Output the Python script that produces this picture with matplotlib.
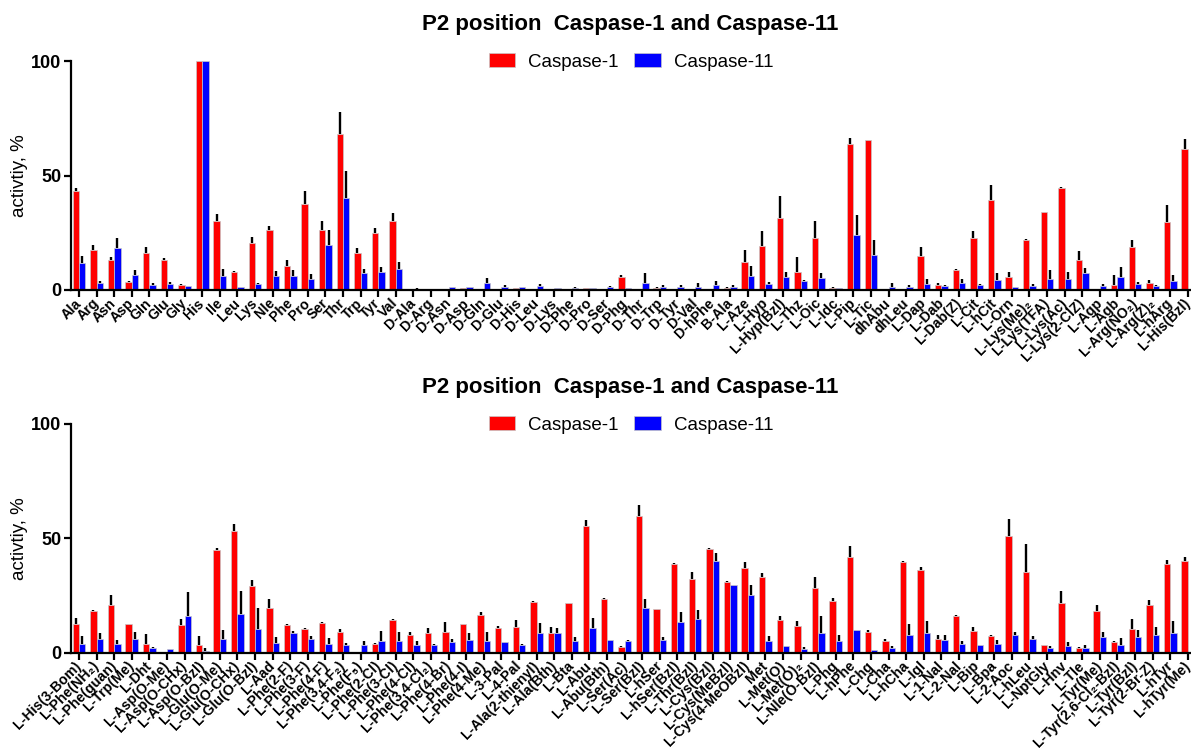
import numpy as np
import matplotlib
matplotlib.use('Agg')
import matplotlib.pyplot as plt

plt.rcParams['font.family'] = ['Liberation Sans', 'DejaVu Sans']

# ---- data: upper panel ----
labels_top = ['Ala', 'Arg', 'Asn', 'Asp', 'Gln', 'Glu', 'Gly', 'His', 'Ile', 'Leu',
              'Lys', 'Nle', 'Phe', 'Pro', 'Ser', 'Thr', 'Trp', 'Tyr', 'Val',
              'D-Ala', 'D-Arg', 'D-Asn', 'D-Asp', 'D-Gln', 'D-Glu', 'D-His', 'D-Leu',
              'D-Lys', 'D-Phe', 'D-Pro', 'D-Ser', 'D-Phg', 'D-Thr', 'D-Trp', 'D-Tyr',
              'D-Val', 'D-hPhe', 'B-Ala', 'L-Aze', 'L-Hyp', 'L-Hyp(Bzl)', 'L-Thz',
              'L-Oic', 'L-Idc', 'L-Pip', 'L-Tic', 'dhAbu', 'dhLeu', 'L-Dap', 'L-Dab',
              'L-Dab(Z)', 'L-Cit', 'L-hCit', 'L-Orn', 'L-Lys(Me)\u2082', 'L-Lys(TFA)',
              'L-Lys(Ac)', 'L-Lys(2-ClZ)', 'L-Agp', 'L-Agb', 'L-Arg(NO\u2082)',
              'L-Arg(Z)\u2082', 'L-hArg', 'L-His(Bzl)']
c1_top = [43.1, 17.3, 13.0, 3.6, 16.3, 13.0, 2.2, 100, 30.0, 8.0,
          20.7, 26.0, 10.3, 37.4, 26.3, 68.0, 16.3, 25.0, 30.0,
          0.2, 0.2, 0.5, 0.7, 0.1, 0.4, 0.7, 0.1, 0.1, 0.2, 0.7, 0.2, 5.5, 0.1,
          0.9, 0.2, 0.2, 0.2, 0.9, 12.4, 19.2, 31.6, 7.9, 22.9, 1.0, 63.6, 65.4,
          0.6, 0.6, 14.8, 2.0, 8.6, 22.9, 39.2, 5.8, 22.0, 33.9, 44.4, 13.2,
          0.1, 2.2, 18.6, 3.2, 29.5, 61.7]
c1_top_err = [1.4, 2.3, 1.4, 0.3, 2.3, 1.0, 0.4, 0, 3.2, 0.3,
              2.4, 1.8, 2.7, 5.8, 3.7, 9.6, 1.9, 2.2, 3.8,
              0, 0, 0, 0.3, 0, 0, 0.1, 0, 0, 0, 0, 0, 0.9, 0,
              0.2, 0, 0, 0, 0.2, 5.2, 6.7, 9.6, 6.4, 7.4, 0.5, 2.9, 0,
              0, 0, 4.0, 1.1, 0.4, 2.9, 6.8, 1.9, 0.4, 0.3, 0.4, 3.8,
              0, 4.2, 3.4, 1.3, 7.5, 4.2]
c11_top = [11.8, 2.9, 18.2, 6.6, 2.3, 2.6, 1.6, 100, 6.0, 1.3,
           2.6, 6.0, 6.0, 4.9, 19.6, 40.0, 7.4, 7.7, 9.3,
           0.6, 0.5, 1.2, 1.2, 2.9, 1.2, 1.2, 1.6, 0.7, 0.9, 0.9, 1.2, 0.7, 3.2,
           1.2, 1.2, 1.5, 2.2, 1.2, 6.3, 2.6, 5.8, 3.9, 5.2, 0.7, 23.9, 15.1,
           1.5, 1.5, 2.5, 1.7, 3.2, 2.3, 4.2, 1.2, 1.6, 4.9, 4.9, 7.6,
           1.6, 5.8, 2.6, 1.9, 3.9, 0.0]
c11_top_err = [3.2, 1.0, 4.7, 2.3, 0.6, 0.7, 0.3, 0, 3.3, 0,
               0.4, 2.4, 2.6, 1.9, 6.4, 12.1, 1.9, 2.2, 2.9,
               0.3, 0, 0.3, 0.1, 2.5, 1.0, 0.3, 1.0, 0.2, 0.3, 0, 0.4, 0, 4.4,
               1.1, 1.1, 1.7, 1.9, 1.0, 4.2, 0.7, 2.1, 0.3, 2.4, 0, 9.0, 6.9,
               1.4, 0.7, 2.2, 0.6, 1.7, 0.5, 3.1, 0, 1.2, 3.7, 3.1, 2.2,
               0.9, 4.1, 1.0, 0.3, 2.7, 0.0]

# ---- data: lower panel ----
labels_bot = ['L-His(3-Bom)', 'L-Phe(NH\u2082)', 'L-Phe(guan)', 'L-Trp(Me)', 'L-Dht',
              'L-Asp(O-Me)', 'L-Asp(O-CHx)', 'L-Asp(O-Bzl)', 'L-Glu(O-Me)',
              'L-Glu(O-CHx)', 'L-Glu(O-Bzl)', 'L-Aad', 'L-Phe(2-F)', 'L-Phe(3-F)',
              'L-Phe(4-F)', 'L-Phe(3,4-F\u2082)', 'L-Phe(F\u2085)', 'L-Phe(2-Cl)',
              'L-Phe(3-Cl)', 'L-Phe(4-Cl)', 'L-Phe(3,4-Cl\u2082)', 'L-Phe(4-Br)',
              'L-Phe(4-I)', 'L-Phe(4-Me)', 'L-3-Pal', 'L-4-Pal', 'L-Ala(2-thienyl)',
              'L-Ala(Bth)', 'L-Bta', 'L-Abu', 'L-Abu(Bth)', 'L-Ser(Ac)', 'L-Ser(Bzl)',
              'L-hSer', 'L-hSer(Bzl)', 'L-Thr(Bzl)', 'L-Cys(Bzl)', 'L-Cys(MeBzl)',
              'L-Cys(4-MeOBzl)', 'Met', 'L-Met(O)', 'L-Met(O)\u2082', 'L-Nle(O-Bzl)',
              'L-Phg', 'L-hPhe', 'L-Chg', 'L-Cha', 'L-hCha', 'L-Igl', 'L-1-Nal',
              'L-2-Nal', 'L-Bip', 'L-Bpa', 'L-2-Aoc', 'L-hLeu', 'L-NptGly', 'L-Hnv',
              'L-Tle', 'L-Tyr(Me)', 'L-Tyr(2,6-Cl\u2082-Bzl)', 'L-Tyr(Bzl)',
              'L-Tyr(2-Br-Z)', 'L-hTyr', 'L-hTyr(Me)']
c1_bot = [12.5, 18.2, 20.7, 12.5, 3.8, 0.0, 12.2, 3.2, 44.8, 53.1,
          29.3, 19.5, 12.1, 10.5, 13.0, 9.2, 0.0, 3.8, 14.3, 7.6,
          8.5, 8.9, 12.5, 16.5, 10.8, 11.2, 22.2, 8.5, 21.7, 55.4,
          23.6, 2.5, 59.6, 19.0, 38.8, 32.2, 45.5, 31.0, 37.0, 32.9,
          14.3, 11.7, 28.3, 22.6, 41.7, 8.9, 5.1, 39.7, 36.2, 6.1,
          16.2, 9.3, 7.3, 50.9, 35.3, 3.2, 21.7, 2.2, 18.2, 4.7,
          10.5, 20.8, 38.9, 39.9]
c1_bot_err = [2.7, 0.5, 4.7, 0.2, 4.5, 0, 2.5, 4.2, 0.8, 3.0,
              2.5, 4.0, 0.3, 0.3, 0.3, 1.1, 0, 0.6, 0.3, 1.6,
              2.3, 4.4, 0.2, 1.4, 1.0, 2.9, 0.2, 2.7, 0.2, 2.8,
              0.5, 0.3, 5.0, 0.3, 0.3, 2.9, 0.4, 0.3, 2.8, 1.8,
              1.9, 2.1, 4.9, 1.2, 4.8, 1.1, 1.0, 0.4, 1.4, 1.8,
              0.2, 1.9, 0.3, 7.4, 12.4, 0.3, 5.1, 0.3, 2.8, 0.3,
              4.4, 2.4, 1.5, 1.8]
c11_bot = [3.6, 5.8, 3.8, 5.8, 1.9, 1.5, 16.0, 0.9, 5.8, 16.9,
           10.2, 4.2, 8.7, 5.8, 3.8, 3.5, 3.2, 5.2, 5.2, 3.5,
           3.5, 4.5, 5.5, 5.1, 4.5, 3.2, 8.5, 8.5, 5.1, 10.8,
           5.5, 5.0, 19.4, 5.5, 13.3, 14.6, 40.2, 29.4, 25.4, 5.2,
           2.9, 1.7, 8.5, 5.1, 9.8, 1.2, 2.2, 7.7, 8.5, 5.4,
           3.6, 3.2, 3.8, 7.6, 6.0, 1.9, 2.9, 2.2, 6.9, 3.5,
           6.9, 7.6, 8.5, 0.0]
c11_bot_err = [3.7, 2.8, 1.7, 3.1, 0.6, 0.2, 10.5, 1.0, 4.2, 9.9,
               9.5, 2.7, 0.8, 1.5, 2.6, 0.6, 1.8, 4.3, 3.7, 1.5,
               0.3, 1.5, 3.2, 4.1, 0.2, 0.4, 4.5, 2.4, 1.9, 4.2,
               0, 0.5, 4.1, 1.5, 4.3, 4.2, 3.2, 0.2, 4.2, 1.9,
               0.2, 0.9, 7.5, 2.5, 0.2, 0, 0.6, 5.0, 5.2, 2.3,
               1.4, 0.2, 1.6, 1.3, 1.1, 1.0, 1.6, 1.0, 2.1, 2.9,
               3.1, 3.5, 5.5, 0.0]

title = 'P2 position  Caspase-1 and Caspase-11'

fig = plt.figure(figsize=(11.91, 7.51), dpi=100)
ax_top = fig.add_axes([71 / 1191, 461 / 751, 1120 / 1191, 229 / 751])
ax_bot = fig.add_axes([71 / 1191, 98.3 / 751, 1120 / 1191, 228.7 / 751])

w = 0.36
for ax, labels, r, re, b, be in [(ax_top, labels_top, c1_top, c1_top_err, c11_top, c11_top_err),
                                 (ax_bot, labels_bot, c1_bot, c1_bot_err, c11_bot, c11_bot_err)]:
    x = np.arange(len(labels))
    r = np.array(r); b = np.array(b)
    ax.bar(x - w / 2, r, w, color='#ff0000', edgecolor='#c8c8c8', linewidth=0.5,
           label='Caspase-1', zorder=2)
    ax.bar(x + w / 2, b, w, color='#0000ff', edgecolor='#c8c8c8', linewidth=0.5,
           label='Caspase-11', zorder=2)
    ax.errorbar(x - w / 2, r, yerr=[np.zeros_like(r), re], fmt='none',
                ecolor='black', elinewidth=1.7, capsize=0, zorder=3)
    ax.errorbar(x + w / 2, b, yerr=[np.zeros_like(b), be], fmt='none',
                ecolor='black', elinewidth=1.7, capsize=0, zorder=3)

    ax.set_xlim(-0.455, 63.18)
    ax.set_ylim(0, 100)
    ax.set_yticks([0, 50, 100])
    ax.set_yticklabels(['0', '50', '100'], fontsize=13, fontweight='bold')
    ax.set_xticks(x)
    ax.set_xticklabels(labels, rotation=45, ha='right', va='center',
                       rotation_mode='anchor', fontsize=10.2, fontweight='bold')
    ax.tick_params(axis='both', direction='out', length=5, width=1.6, color='black')
    ax.tick_params(axis='x', pad=3)
    ax.tick_params(axis='y', pad=2)
    for s in ['top', 'right']:
        ax.spines[s].set_visible(False)
    for s in ['left', 'bottom']:
        ax.spines[s].set_linewidth(1.6)

    ax.legend(loc='center', bbox_to_anchor=(0.5, 0.996), ncol=2, frameon=False,
              fontsize=13.5, handlelength=1.4, handleheight=0.75,
              handletextpad=0.7, columnspacing=0.85, borderaxespad=0)

for yc in [461 + 229 / 2, 98.3 + 228.7 / 2]:
    fig.text(20 / 1191, yc / 751, 'activtiy, %', rotation=90,
             ha='center', va='center', fontsize=13.5)
for yb in [30, 393]:
    fig.text(630 / 1191, 1 - yb / 751, title, ha='center', va='baseline',
             fontsize=16, fontweight='bold')

fig.savefig('out.png', dpi=100)
